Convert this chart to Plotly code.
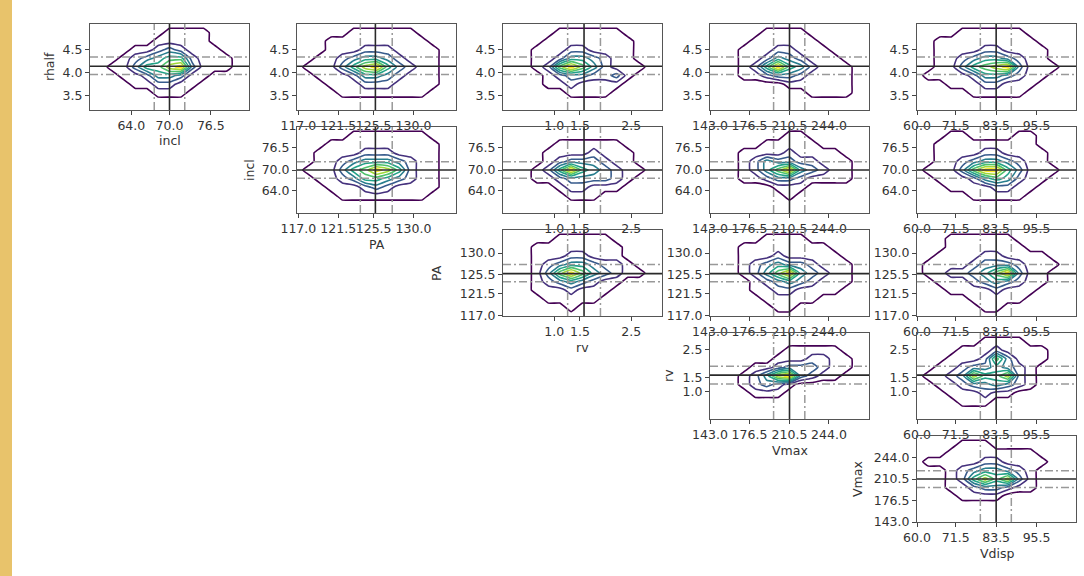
import numpy as np
import plotly.graph_objects as go

# ---------------- data ----------------
col_params = ["incl", "PA", "rv", "Vmax", "Vdisp"]
row_params = ["rhalf", "incl", "PA", "rv", "Vmax"]

axis_range = {
    "rhalf": [3.18, 5.05],
    "incl": [57.5, 82.5],
    "PA": [116.85, 134.8],
    "rv": [0.0, 3.1],
    "Vmax": [143.0, 278.0],
    "Vdisp": [60.0, 107.2],
}
tick_vals = {
    "rhalf": [3.5, 4.0, 4.5],
    "incl": [64.0, 70.0, 76.5],
    "PA": [117.0, 121.5, 125.5, 130.0],
    "rv": [1.0, 1.5, 2.5],
    "Vmax": [143.0, 176.5, 210.5, 244.0],
    "Vdisp": [60.0, 71.5, 83.5, 95.5],
}
tick_text = {
    "rhalf": ["3.5", "4.0", "4.5"],
    "incl": ["64.0", "70.0", "76.5"],
    "PA": ["117.0", "121.5", "125.5", "130.0"],
    "rv": ["1.0", "1.5", "2.5"],
    "Vmax": ["143.0", "176.5", "210.5", "244.0"],
    "Vdisp": ["60.0", "71.5", "83.5", "95.5"],
}
median = {"rhalf": 4.13, "incl": 70.0, "PA": 125.7, "rv": 1.58, "Vmax": 210.5, "Vdisp": 83.5}
q16 = {"rhalf": 3.95, "incl": 67.6, "PA": 124.0, "rv": 1.26, "Vmax": 197.0, "Vdisp": 78.8}
q84 = {"rhalf": 4.33, "incl": 72.4, "PA": 127.6, "rv": 1.90, "Vmax": 223.5, "Vdisp": 88.0}

# density grids (rows listed from top = high y to bottom = low y), 11 rows x 15 cols
dens_incl_rhalf = [
    "000000000000000", "000000011110000", "000000111110000", "000011232111000",
    "000123455211100", "001135578311100", "000112443110000", "000011221100000",
    "000000111000000", "000000000000000", "000000000000000"]
dens_PA_rhalf = [
    "000000000000000", "000001111110000", "000111111111000", "000111222111100",
    "001123443211100", "011135785321100", "001112443211100", "000111222111100",
    "000011111111000", "000000000000000", "000000000000000"]
dens_rv_rhalf = [
    "000000000000000", "000001111110000", "000011111111000", "000111221111000",
    "000112443211000", "000126864211100", "000012332231000", "000011211110000",
    "000000111100000", "000000000000000", "000000000000000"]
dens_Vmax_rhalf = [
    "000000000000000", "000001111000000", "000011111100000", "000111221110000",
    "000112432111000", "000125854211100", "000112332111100", "000000011111100",
    "000000000111100", "000000000000000", "000000000000000"]
dens_Vdisp_rhalf = [
    "000000000000000", "000011111100000", "001111111110000", "001111221111000",
    "001123443211000", "001135678311100", "011112443211000", "000111221110000",
    "000001111100000", "000000000000000", "000000000000000"]
dens_PA_incl = [
    "000000000000000", "000001111111000", "000111111111100", "001111222111100",
    "001123444321100", "011135687521100", "001123554321100", "000111232111100",
    "000011111111000", "000000000000000", "000000000000000"]
dens_rv_incl = [
    "000000000000000", "000000000000000", "000001111110000", "000011112111000",
    "000012333211000", "000125854321100", "000112333321000", "000001221110000",
    "000000111000000", "000000000000000", "000000000000000"]
dens_Vmax_incl = [
    "000000000000000", "000000011000000", "000001111100000", "000111121111000",
    "000124332211100", "000124684321100", "000112332111100", "000000111000000",
    "000000010000000", "000000000000000", "000000000000000"]
dens_Vdisp_incl = [
    "000000000000000", "000110000110000", "001111111110000", "001111221111000",
    "001123443211000", "011136885311100", "001112454211000", "000111122110000",
    "000001111100000", "000000000000000", "000000000000000"]
dens_rv_PA = [
    "000000000000000", "000001111100000", "000111111110000", "000111221110000",
    "000123443221000", "000136864321100", "000123432110000", "000111211100000",
    "000011111000000", "000000100000000", "000000000000000"]
dens_Vmax_PA = [
    "000000000000000", "000001111000000", "000111111110000", "000111211111000",
    "000123433211100", "000124684321100", "000012343211100", "000011221111000",
    "000001111100000", "000000110000000", "000000000000000"]
dens_Vdisp_PA = [
    "000000000000000", "000111111000000", "000111111100000", "001111221111000",
    "011112333211100", "011223468311000", "001112343211000", "000111121110000",
    "000001111100000", "000000110000000", "000000000000000"]
dens_Vmax_rv = [
    "000000000000000", "000000000000000", "000000011111000", "000000111221100",
    "000011233321100", "000124783211000", "000123210000000", "000011100000000",
    "000000000000000", "000000000000000", "000000000000000"]
dens_Vdisp_rv = [
    "000000000000000", "000000111100000", "000011121111000", "000111263111000",
    "001123343210000", "011237557210000", "001123343210000", "000111211000000",
    "000011100000000", "000000000000000", "000000000000000"]
dens_Vdisp_Vmax = [
    "000000000000000", "000011100000000", "000111111110000", "011111221111000",
    "000123443210000", "000125757310000", "000112332110000", "000011110000000",
    "000000000000000", "000000000000000", "000000000000000"]

panels = [
    (0, 0, dens_incl_rhalf), (0, 1, dens_PA_rhalf), (0, 2, dens_rv_rhalf),
    (0, 3, dens_Vmax_rhalf), (0, 4, dens_Vdisp_rhalf),
    (1, 1, dens_PA_incl), (1, 2, dens_rv_incl), (1, 3, dens_Vmax_incl), (1, 4, dens_Vdisp_incl),
    (2, 2, dens_rv_PA), (2, 3, dens_Vmax_PA), (2, 4, dens_Vdisp_PA),
    (3, 3, dens_Vmax_rv), (3, 4, dens_Vdisp_rv),
    (4, 4, dens_Vdisp_Vmax),
]

# ---------------- layout geometry (pixels) ----------------
W, H = 1084, 576
col_left = [90, 297, 503, 710, 917]
row_top = [24, 127, 230, 333, 436]
pw, ph = 159, 86

fig = go.Figure()
layout = dict(template="none", width=W, height=H, margin=dict(l=0, r=0, t=0, b=0, pad=0),
              paper_bgcolor="white", plot_bgcolor="rgba(0,0,0,0)", showlegend=False,
              font=dict(family="DejaVu Sans", size=12.5, color="#333"))
shapes = [dict(type="rect", xref="paper", yref="paper", x0=0, x1=12 / W, y0=0, y1=1,
               fillcolor="#E8C36B", line=dict(width=0), layer="below")]
annotations = []
font = dict(family="DejaVu Sans", size=12.5, color="#333")


def axis_dict(p, domain, anchor):
    return dict(domain=domain, range=axis_range[p], tickvals=tick_vals[p], ticktext=tick_text[p],
                ticks="outside", ticklen=4, tickwidth=1, tickcolor="#444", tickangle=0,
                showline=True, linecolor="#555", linewidth=1, mirror=True, automargin=False,
                showgrid=False, zeroline=False, tickfont=font, anchor=anchor, fixedrange=True)


for k, (r, c, grid) in enumerate(panels, start=1):
    xp, yp = col_params[c], row_params[r]
    x0 = col_left[c] / W
    x1 = (col_left[c] + pw) / W
    y1 = 1 - row_top[r] / H
    y0 = 1 - (row_top[r] + ph) / H
    xs = "" if k == 1 else str(k)
    layout["xaxis" + xs] = axis_dict(xp, [x0, x1], "y" + xs)
    layout["yaxis" + xs] = axis_dict(yp, [y0, y1], "x" + xs)

    nx = len(grid[0])
    ny = len(grid)
    gx = np.linspace(axis_range[xp][0], axis_range[xp][1], nx)
    gy = np.linspace(axis_range[yp][0], axis_range[yp][1], ny)
    z = [[int(ch) for ch in row] for row in reversed(grid)]
    fig.add_trace(go.Contour(
        x=gx, y=gy, z=z, xaxis="x" + xs, yaxis="y" + xs,
        autocontour=False, contours=dict(start=0.5, end=7.5, size=1, coloring="lines"),
        colorscale="Viridis", showscale=False, line=dict(width=1.6, smoothing=0.3),
        hoverinfo="skip"))

    xr, yr = "x" + xs, "y" + xs
    for v in (q16[xp], q84[xp]):
        shapes.append(dict(type="line", xref=xr, yref=yr + " domain", x0=v, x1=v, y0=0, y1=1,
                           line=dict(color="#999", width=1.5, dash="8px,3px,2px,3px")))
    for v in (q16[yp], q84[yp]):
        shapes.append(dict(type="line", xref=xr + " domain", yref=yr, x0=0, x1=1, y0=v, y1=v,
                           line=dict(color="#999", width=1.5, dash="8px,3px,2px,3px")))
    shapes.append(dict(type="line", xref=xr, yref=yr + " domain", x0=median[xp], x1=median[xp],
                       y0=0, y1=1, line=dict(color="#2a2a2a", width=1.6)))
    shapes.append(dict(type="line", xref=xr + " domain", yref=yr, x0=0, x1=1,
                       y0=median[yp], y1=median[yp], line=dict(color="#2a2a2a", width=1.6)))

    if r == c:
        annotations.append(dict(text=xp, xref="paper", yref="paper",
                                x=(col_left[c] + pw / 2) / W, y=1 - (row_top[r] + ph + 31) / H,
                                showarrow=False, font=font, xanchor="center", yanchor="middle"))

ytitle_x = [50, 250, 437, 668, 857]
for r in range(5):
    annotations.append(dict(text=row_params[r], xref="paper", yref="paper",
                            x=ytitle_x[r] / W, y=1 - (row_top[r] + ph / 2) / H,
                            showarrow=False, font=font, textangle=-90,
                            xanchor="center", yanchor="middle"))

layout["shapes"] = shapes
layout["annotations"] = annotations
fig.update_layout(**layout)
fig.write_html("out.html", config={"displayModeBar": False},
               post_script="document.body.style.margin='0px';")
